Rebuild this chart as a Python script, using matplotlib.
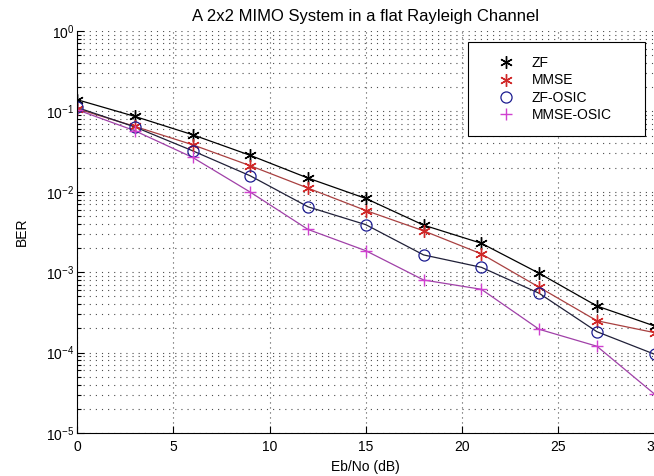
import matplotlib.pyplot as plt
from matplotlib.ticker import LogLocator, NullFormatter

plt.rcParams['font.family'] = ['Liberation Sans', 'DejaVu Sans']
plt.rcParams['mathtext.default'] = 'regular'
plt.rcParams['font.size'] = 10

# Eb/No points (dB)
eb_no = [0, 3, 6, 9, 12, 15, 18, 21, 24, 27, 30]

# BER curves
ber_zf = [0.140, 0.0867, 0.0513, 0.0284, 0.0148, 0.00826, 0.00385, 0.00229, 0.00097, 0.00038, 0.000214]
ber_mmse = [0.108, 0.0651, 0.0385, 0.0211, 0.0111, 0.00585, 0.00327, 0.00169, 0.00065, 0.000249, 0.000177]
ber_zf_osic = [0.112, 0.0641, 0.0324, 0.0158, 0.0065, 0.0039, 0.00164, 0.00115, 0.000547, 0.000182, 0.0000953]
ber_mmse_osic = [0.105, 0.0575, 0.0268, 0.0099, 0.0034, 0.00185, 0.0008, 0.000613, 0.000195, 0.00012, 0.0000304]

# MATLAB-like asterisk marker
star = (6, 2, 0)

series = [
    ('ZF', ber_zf, star, 'black', 'black'),
    ('MMSE', ber_mmse, star, '#d02828', '#a84040'),
    ('ZF-OSIC', ber_zf_osic, 'o', '#1c1c90', '#202038'),
    ('MMSE-OSIC', ber_mmse_osic, '+', '#d040d0', '#a040a8'),
]

fig = plt.figure(figsize=(6.54, 4.76), dpi=100)
ax = fig.add_axes([77 / 654, 1 - 433 / 476, 1.001 - 77 / 654, (433 - 31) / 476])

for name, ber, marker, mcolor, lcolor in series:
    ax.semilogy(eb_no, ber, '-', color=lcolor, linewidth=0.9)
for name, ber, marker, mcolor, lcolor in series:
    if marker == 'o':
        ax.semilogy(eb_no, ber, linestyle='', marker='o', markersize=8,
                    markerfacecolor='none', markeredgecolor=mcolor,
                    markeredgewidth=0.9, label=name)
    else:
        ax.semilogy(eb_no, ber, linestyle='', marker=marker, markersize=9,
                    color=mcolor, markeredgewidth=1.0, label=name)

ax.set_xlim(0, 30)
ax.set_ylim(1e-5, 1e0)
ax.set_xticks([0, 5, 10, 15, 20, 25, 30])
ax.yaxis.set_major_locator(LogLocator(base=10, numticks=10))
ax.yaxis.set_minor_locator(LogLocator(base=10, subs=range(2, 10), numticks=20))
ax.yaxis.set_minor_formatter(NullFormatter())

ax.grid(True, which='major', axis='x', color='0.3', linestyle=(0, (1, 3.5)), linewidth=0.8)
ax.grid(True, which='both', axis='y', color='0.3', linestyle=(0, (1, 4.5)), linewidth=0.8)

ax.tick_params(which='major', direction='in', length=5, width=0.8)
ax.tick_params(which='minor', direction='in', length=3, width=0.8)
ax.tick_params(axis='y', pad=2)
ax.tick_params(axis='x', pad=5)
ax.spines['top'].set_visible(False)
ax.spines['right'].set_visible(False)

ax.set_title('A 2x2 MIMO System in a flat Rayleigh Channel', pad=7)
ax.set_xlabel('Eb/No (dB)', labelpad=4)
ax.set_ylabel('BER', labelpad=12)

leg = ax.legend(loc='upper left',
                bbox_to_anchor=(468 / 654, 1 - 133 / 476, 177 / 654, 91 / 476),
                bbox_transform=fig.transFigure, mode='expand',
                fancybox=False, framealpha=1, edgecolor='black',
                borderpad=1.0, labelspacing=0.25, handlelength=3.5,
                handletextpad=0.1, borderaxespad=0)
leg.get_frame().set_linewidth(0.8)

fig.savefig('out.png', dpi=100)
